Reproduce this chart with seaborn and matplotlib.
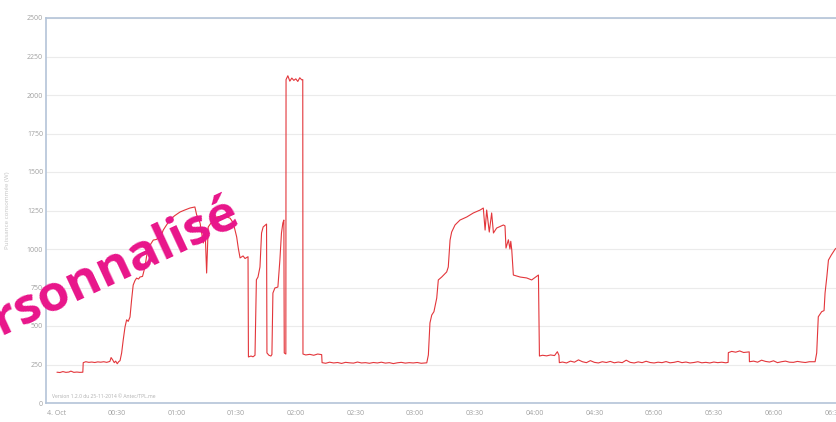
import matplotlib
matplotlib.use("Agg")
import matplotlib.pyplot as plt
import seaborn as sns
import pandas as pd

# minutes after midnight (4. Oct) and power in W
minutes = [
    0, 1.5, 3, 4.5, 6, 7, 8.5, 10, 11.5, 13,
    13.2, 14.5, 16, 17.5, 19, 20.5, 22, 23.5, 25, 26.6, 27.2, 28, 28.8, 29.5, 30.3, 31, 31.7,
    32.5, 33.3, 34.2, 35, 35.8, 36.7, 37.5, 38.3, 39.2, 40, 41, 41.7, 43, 44.2, 45, 45.9,
    47, 48.4, 50, 51.8, 52.6, 53.4, 55, 56.8, 59, 61.8, 64, 66.8, 69.3, 70.2, 71.9, 73.5,
    74.5, 75.2, 76, 78, 80.2, 83, 85.3, 87, 88.6, 90.3, 91.1, 92, 93.5, 94.5, 96,
    96.2, 97.5, 98.5, 99.5, 100.2, 101, 102, 102.8, 103.6, 105.3,
    105.5, 106.5, 107.5, 108, 108.5, 109.5, 111, 112, 112.8, 113.5, 114,
    114.2, 115, 115.1, 116, 117, 118, 119, 120, 121, 122, 123, 123.5,
    123.6, 125, 127, 129, 131, 133,
    133.2, 135, 137, 139, 141, 143, 145, 147, 149, 151, 153, 155, 157, 159, 161, 163,
    165, 167, 169, 171, 173, 175, 177, 179, 181, 183, 185.8,
    186.6, 187.4, 188.3, 189.4, 190.8, 191.6, 193.3, 195.8, 196.6, 197.5, 198.3, 200,
    202.5, 205.9, 209.2, 212.6, 214.2, 215.1, 215.9, 217.2, 218.4, 219.3, 220.9, 224.3,
    225.1, 225.6, 226.8, 227.6, 228, 228.5, 229.3, 232.7, 236, 238.5, 241.9,
    242.4, 244, 246, 248, 250, 251.4, 252.2,
    252.4, 254, 256, 258, 260, 262, 264, 266, 268, 270, 272, 274, 276, 278, 280, 282,
    284, 286, 288, 290, 292, 294, 296, 298, 300, 302, 304, 306, 308, 310, 312, 314,
    316, 318, 320, 322, 324, 326, 328, 330, 332, 334, 336, 337.2,
    337.3, 339, 341, 343, 345, 347.8,
    347.9, 350, 352, 354, 356, 358, 360, 362, 364, 366, 368, 370, 372, 374, 376, 378, 380.9,
    381.7, 382.5, 384.2, 385.4, 385.9, 386.8, 387.6, 389, 391, 393,
]
watts = [
    200, 198, 204, 199, 201, 207, 199, 201, 199, 200,
    262, 268, 264, 266, 263, 267, 265, 268, 264, 270, 295, 280, 262, 272, 255, 268, 275,
    325, 410, 494, 540, 530, 558, 669, 766, 795, 811, 805, 818, 822, 883, 950, 1013,
    1030, 1058, 1062, 1078, 1095, 1123, 1155, 1188, 1215, 1240, 1252, 1266, 1273, 1221, 1169, 1039,
    1100, 844, 1143, 1180, 1208, 1215, 1208, 1200, 1169, 1078, 1006, 942, 955, 938, 950,
    299, 305, 300, 310, 800, 818, 883, 1104, 1143, 1162,
    325, 310, 305, 315, 714, 747, 753, 928, 1104, 1169, 1188,
    325, 318, 2100, 2125, 2090, 2110, 2095, 2105, 2088, 2112, 2098, 2100,
    318, 312, 316, 310, 318, 314,
    262, 258, 265, 260, 263, 257, 264, 261, 259, 266, 260, 262, 258, 263, 260, 265,
    259, 262, 256, 261, 264, 259, 262, 260, 263, 258, 261,
    312, 520, 571, 593, 681, 799, 818, 851, 883, 1058, 1110, 1156,
    1188, 1208, 1234, 1253, 1266, 1123, 1253, 1110, 1234, 1104, 1136, 1156,
    1150, 1006, 1060, 1000, 1050, 994, 831, 818, 812, 799, 831,
    305, 310, 306, 312, 308, 333, 310,
    262, 266, 260, 272, 265, 280, 268, 262, 275, 264, 260, 268, 263, 270, 261, 266,
    262, 278, 264, 260, 267, 262, 271, 263, 260, 265, 262, 269, 261, 264, 270, 262,
    266, 260, 263, 268, 261, 264, 260, 266, 262, 265, 261, 264,
    327, 335, 330, 338, 328, 332,
    268, 272, 265, 278, 270, 266, 274, 262, 268, 272, 265, 264, 270, 266, 263, 268, 268,
    325, 560, 593, 600, 714, 820, 928, 960, 1000, 1020,
]

tick_minutes = [0, 30, 60, 90, 120, 150, 180, 210, 240, 270, 300, 330, 360, 390]
tick_labels = ["4. Oct", "00:30", "01:00", "01:30", "02:00", "02:30", "03:00",
               "03:30", "04:00", "04:30", "05:00", "05:30", "06:00", "06:30"]
y_ticks = [0, 250, 500, 750, 1000, 1250, 1500, 1750, 2000, 2250, 2500]

df = pd.DataFrame({"minute": minutes, "watt": watts})

sns.set_theme(style="white")
plt.rcParams["font.family"] = ["Open Sans", "DejaVu Sans"]

fig = plt.figure(figsize=(8.37, 4.22), dpi=100)
ax = fig.add_axes([46 / 837, 19 / 422, 1 - 46 / 837, 385 / 422])

sns.lineplot(data=df, x="minute", y="watt", ax=ax, color="#e3363b", lw=0.8,
             estimator=None, sort=False)

ax.set_xlim(-5.5, 391.9)
ax.set_ylim(0, 2500)
ax.set_xticks(tick_minutes)
ax.set_xticklabels(tick_labels)
ax.set_yticks(y_ticks)
ax.tick_params(axis="both", labelsize=5, colors="#a0a0a0", pad=2)
ax.tick_params(axis="x", length=3, color="#c8d4e4", width=0.8)
ax.tick_params(axis="y", length=0)
ax.yaxis.grid(True, color="#ebebeb", lw=0.8)
ax.set_xlabel("")
ax.set_ylabel("Puissance consommée (W)", fontsize=4.5, color="#c4c4c4", labelpad=12)

for side in ["top", "left", "bottom"]:
    ax.spines[side].set_color("#b4c4d8")
    ax.spines[side].set_linewidth(1.2)
ax.spines["right"].set_visible(False)

ax.text(0.008, 0.01, "Version 1.2.0 du 25-11-2014 © Antec/TPL.me", transform=ax.transAxes,
        fontsize=3.6, color="#b0b0b0", va="bottom", ha="left")

fig.text(242 / 837, 1 - 222 / 422, "Personnalisé", color="#e8158a", fontsize=37,
         fontweight="bold", rotation=25, rotation_mode="anchor", ha="right", va="baseline")

fig.savefig("out.png", dpi=100)
